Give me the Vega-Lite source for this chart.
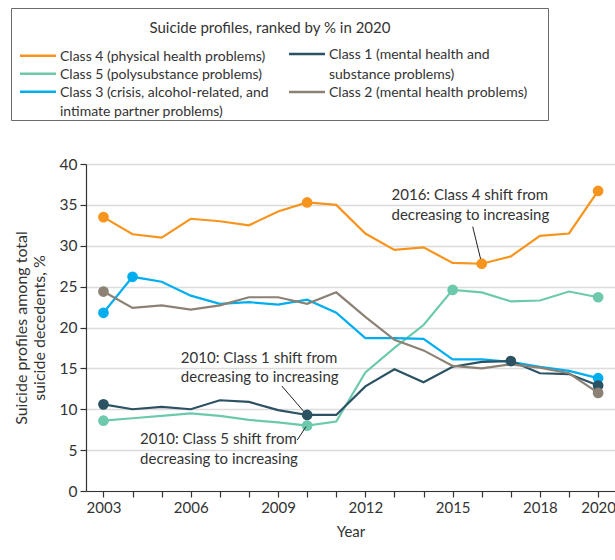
{
  "$schema": "https://vega.github.io/schema/vega-lite/v6.json",
  "width": 529,
  "height": 327,
  "autosize": "none",
  "padding": {"left": 86, "top": 164, "right": 0, "bottom": 69},
  "background": "white",
  "config": {
    "font": "Lato",
    "view": {"stroke": null},
    "text": {"font": "Lato"},
    "legend": {
      "orient": "none",
      "direction": "vertical",
      "rowPadding": 3,
      "symbolType": "M-5,0H5", "symbolSize": 51.84, "symbolStrokeWidth": 2.5, "symbolOffset": 11,
      "labelOffset": 15, "labelFontSize": 14, "labelColor": "#333333", "labelLimit": 400, "labelBaseline": "top"
    }
  },
  "datasets": {
    "series": [
      {"year": 2003, "class": "Class 4 (physical health problems)", "pct": 33.5, "dot": true},
      {"year": 2004, "class": "Class 4 (physical health problems)", "pct": 31.4, "dot": false},
      {"year": 2005, "class": "Class 4 (physical health problems)", "pct": 31.0, "dot": false},
      {"year": 2006, "class": "Class 4 (physical health problems)", "pct": 33.3, "dot": false},
      {"year": 2007, "class": "Class 4 (physical health problems)", "pct": 33.0, "dot": false},
      {"year": 2008, "class": "Class 4 (physical health problems)", "pct": 32.5, "dot": false},
      {"year": 2009, "class": "Class 4 (physical health problems)", "pct": 34.2, "dot": false},
      {"year": 2010, "class": "Class 4 (physical health problems)", "pct": 35.3, "dot": true},
      {"year": 2011, "class": "Class 4 (physical health problems)", "pct": 35.0, "dot": false},
      {"year": 2012, "class": "Class 4 (physical health problems)", "pct": 31.5, "dot": false},
      {"year": 2013, "class": "Class 4 (physical health problems)", "pct": 29.5, "dot": false},
      {"year": 2014, "class": "Class 4 (physical health problems)", "pct": 29.8, "dot": false},
      {"year": 2015, "class": "Class 4 (physical health problems)", "pct": 27.9, "dot": false},
      {"year": 2016, "class": "Class 4 (physical health problems)", "pct": 27.8, "dot": true},
      {"year": 2017, "class": "Class 4 (physical health problems)", "pct": 28.7, "dot": false},
      {"year": 2018, "class": "Class 4 (physical health problems)", "pct": 31.2, "dot": false},
      {"year": 2019, "class": "Class 4 (physical health problems)", "pct": 31.5, "dot": false},
      {"year": 2020, "class": "Class 4 (physical health problems)", "pct": 36.7, "dot": true},

      {"year": 2003, "class": "Class 5 (polysubstance problems)", "pct": 8.6, "dot": true},
      {"year": 2004, "class": "Class 5 (polysubstance problems)", "pct": 8.9, "dot": false},
      {"year": 2005, "class": "Class 5 (polysubstance problems)", "pct": 9.2, "dot": false},
      {"year": 2006, "class": "Class 5 (polysubstance problems)", "pct": 9.5, "dot": false},
      {"year": 2007, "class": "Class 5 (polysubstance problems)", "pct": 9.2, "dot": false},
      {"year": 2008, "class": "Class 5 (polysubstance problems)", "pct": 8.7, "dot": false},
      {"year": 2009, "class": "Class 5 (polysubstance problems)", "pct": 8.4, "dot": false},
      {"year": 2010, "class": "Class 5 (polysubstance problems)", "pct": 8.0, "dot": true},
      {"year": 2011, "class": "Class 5 (polysubstance problems)", "pct": 8.5, "dot": false},
      {"year": 2012, "class": "Class 5 (polysubstance problems)", "pct": 14.5, "dot": false},
      {"year": 2013, "class": "Class 5 (polysubstance problems)", "pct": 17.5, "dot": false},
      {"year": 2014, "class": "Class 5 (polysubstance problems)", "pct": 20.3, "dot": false},
      {"year": 2015, "class": "Class 5 (polysubstance problems)", "pct": 24.6, "dot": true},
      {"year": 2016, "class": "Class 5 (polysubstance problems)", "pct": 24.3, "dot": false},
      {"year": 2017, "class": "Class 5 (polysubstance problems)", "pct": 23.2, "dot": false},
      {"year": 2018, "class": "Class 5 (polysubstance problems)", "pct": 23.3, "dot": false},
      {"year": 2019, "class": "Class 5 (polysubstance problems)", "pct": 24.4, "dot": false},
      {"year": 2020, "class": "Class 5 (polysubstance problems)", "pct": 23.7, "dot": true},

      {"year": 2003, "class": "Class 3 (crisis, alcohol-related, and intimate partner problems)", "pct": 21.8, "dot": true},
      {"year": 2004, "class": "Class 3 (crisis, alcohol-related, and intimate partner problems)", "pct": 26.2, "dot": true},
      {"year": 2005, "class": "Class 3 (crisis, alcohol-related, and intimate partner problems)", "pct": 25.6, "dot": false},
      {"year": 2006, "class": "Class 3 (crisis, alcohol-related, and intimate partner problems)", "pct": 23.9, "dot": false},
      {"year": 2007, "class": "Class 3 (crisis, alcohol-related, and intimate partner problems)", "pct": 22.9, "dot": false},
      {"year": 2008, "class": "Class 3 (crisis, alcohol-related, and intimate partner problems)", "pct": 23.1, "dot": false},
      {"year": 2009, "class": "Class 3 (crisis, alcohol-related, and intimate partner problems)", "pct": 22.8, "dot": false},
      {"year": 2010, "class": "Class 3 (crisis, alcohol-related, and intimate partner problems)", "pct": 23.4, "dot": false},
      {"year": 2011, "class": "Class 3 (crisis, alcohol-related, and intimate partner problems)", "pct": 21.8, "dot": false},
      {"year": 2012, "class": "Class 3 (crisis, alcohol-related, and intimate partner problems)", "pct": 18.7, "dot": false},
      {"year": 2013, "class": "Class 3 (crisis, alcohol-related, and intimate partner problems)", "pct": 18.7, "dot": false},
      {"year": 2014, "class": "Class 3 (crisis, alcohol-related, and intimate partner problems)", "pct": 18.6, "dot": false},
      {"year": 2015, "class": "Class 3 (crisis, alcohol-related, and intimate partner problems)", "pct": 16.1, "dot": false},
      {"year": 2016, "class": "Class 3 (crisis, alcohol-related, and intimate partner problems)", "pct": 16.1, "dot": false},
      {"year": 2017, "class": "Class 3 (crisis, alcohol-related, and intimate partner problems)", "pct": 15.8, "dot": false},
      {"year": 2018, "class": "Class 3 (crisis, alcohol-related, and intimate partner problems)", "pct": 15.2, "dot": false},
      {"year": 2019, "class": "Class 3 (crisis, alcohol-related, and intimate partner problems)", "pct": 14.7, "dot": false},
      {"year": 2020, "class": "Class 3 (crisis, alcohol-related, and intimate partner problems)", "pct": 13.8, "dot": true},

      {"year": 2003, "class": "Class 1 (mental health and substance problems)", "pct": 10.6, "dot": true},
      {"year": 2004, "class": "Class 1 (mental health and substance problems)", "pct": 10.0, "dot": false},
      {"year": 2005, "class": "Class 1 (mental health and substance problems)", "pct": 10.3, "dot": false},
      {"year": 2006, "class": "Class 1 (mental health and substance problems)", "pct": 10.0, "dot": false},
      {"year": 2007, "class": "Class 1 (mental health and substance problems)", "pct": 11.1, "dot": false},
      {"year": 2008, "class": "Class 1 (mental health and substance problems)", "pct": 10.9, "dot": false},
      {"year": 2009, "class": "Class 1 (mental health and substance problems)", "pct": 9.9, "dot": false},
      {"year": 2010, "class": "Class 1 (mental health and substance problems)", "pct": 9.3, "dot": true},
      {"year": 2011, "class": "Class 1 (mental health and substance problems)", "pct": 9.3, "dot": false},
      {"year": 2012, "class": "Class 1 (mental health and substance problems)", "pct": 12.8, "dot": false},
      {"year": 2013, "class": "Class 1 (mental health and substance problems)", "pct": 14.9, "dot": false},
      {"year": 2014, "class": "Class 1 (mental health and substance problems)", "pct": 13.3, "dot": false},
      {"year": 2015, "class": "Class 1 (mental health and substance problems)", "pct": 15.2, "dot": false},
      {"year": 2016, "class": "Class 1 (mental health and substance problems)", "pct": 15.8, "dot": false},
      {"year": 2017, "class": "Class 1 (mental health and substance problems)", "pct": 15.9, "dot": true},
      {"year": 2018, "class": "Class 1 (mental health and substance problems)", "pct": 14.4, "dot": false},
      {"year": 2019, "class": "Class 1 (mental health and substance problems)", "pct": 14.3, "dot": false},
      {"year": 2020, "class": "Class 1 (mental health and substance problems)", "pct": 12.9, "dot": true},

      {"year": 2003, "class": "Class 2 (mental health problems)", "pct": 24.4, "dot": true},
      {"year": 2004, "class": "Class 2 (mental health problems)", "pct": 22.4, "dot": false},
      {"year": 2005, "class": "Class 2 (mental health problems)", "pct": 22.7, "dot": false},
      {"year": 2006, "class": "Class 2 (mental health problems)", "pct": 22.2, "dot": false},
      {"year": 2007, "class": "Class 2 (mental health problems)", "pct": 22.7, "dot": false},
      {"year": 2008, "class": "Class 2 (mental health problems)", "pct": 23.7, "dot": false},
      {"year": 2009, "class": "Class 2 (mental health problems)", "pct": 23.7, "dot": false},
      {"year": 2010, "class": "Class 2 (mental health problems)", "pct": 22.9, "dot": false},
      {"year": 2011, "class": "Class 2 (mental health problems)", "pct": 24.3, "dot": false},
      {"year": 2012, "class": "Class 2 (mental health problems)", "pct": 21.3, "dot": false},
      {"year": 2013, "class": "Class 2 (mental health problems)", "pct": 18.5, "dot": false},
      {"year": 2014, "class": "Class 2 (mental health problems)", "pct": 17.2, "dot": false},
      {"year": 2015, "class": "Class 2 (mental health problems)", "pct": 15.3, "dot": false},
      {"year": 2016, "class": "Class 2 (mental health problems)", "pct": 15.0, "dot": false},
      {"year": 2017, "class": "Class 2 (mental health problems)", "pct": 15.5, "dot": false},
      {"year": 2018, "class": "Class 2 (mental health problems)", "pct": 15.1, "dot": false},
      {"year": 2019, "class": "Class 2 (mental health problems)", "pct": 14.4, "dot": false},
      {"year": 2020, "class": "Class 2 (mental health problems)", "pct": 12.0, "dot": true}
    ],
    "notes": [
      {"year": 2012.9, "pct": 36.2, "note": "2016: Class 4 shift from\ndecreasing to increasing"},
      {"year": 2005.66, "pct": 16.3, "note": "2010: Class 1 shift from\ndecreasing to increasing"},
      {"year": 2004.26, "pct": 6.32, "note": "2010: Class 5 shift from\ndecreasing to increasing"}
    ],
    "arrows": [
      {"year": 2015.69, "pct": 32.33, "year2": 2015.96, "pct2": 28.4},
      {"year": 2009.13, "pct": 12.84, "year2": 2009.89, "pct2": 9.7},
      {"year": 2009.66, "pct": 6.24, "year2": 2009.96, "pct2": 7.87}
    ]
  },
  "layer": [
    {
      "data": {"name": "series"},
      "transform": [{"filter": {"field": "class", "oneOf": ["Class 4 (physical health problems)", "Class 5 (polysubstance problems)", "Class 3 (crisis, alcohol-related, and intimate partner problems)"]}}],
      "mark": {"type": "line", "strokeWidth": 2.2},
      "encoding": {
        "x": {
          "field": "year", "type": "quantitative",
          "scale": {"domain": [2002.4, 2020.58], "nice": false, "zero": false},
          "axis": {
            "values": [2003, 2004, 2005, 2006, 2007, 2008, 2009, 2010, 2011, 2012, 2013, 2014, 2015, 2016, 2017, 2018, 2019, 2020],
            "tickCount": 30,
            "format": "d",
            "labelExpr": "indexof([2003, 2006, 2009, 2012, 2015, 2018, 2020], datum.value) >= 0 ? datum.label : ''",
            "grid": false,
            "tickSize": 6, "tickColor": "#333333", "tickWidth": 1.2,
            "domainColor": "#333333", "domainWidth": 1.2,
            "labelFontSize": 15, "labelColor": "#333333", "labelPadding": 3,
            "labelFlush": false, "labelOverlap": false, "labelBound": false,
            "title": "Year", "titleFontSize": 15, "titleFontWeight": "normal", "titleColor": "#333333", "titlePadding": 9
          }
        },
        "y": {
          "field": "pct", "type": "quantitative",
          "scale": {"domain": [0, 40], "nice": false},
          "axis": {
            "values": [0, 5, 10, 15, 20, 25, 30, 35, 40],
            "grid": true, "gridColor": "#dcdcdc", "gridWidth": 1.5,
            "tickSize": 6, "tickColor": "#333333", "tickWidth": 1.2,
            "domainColor": "#333333", "domainWidth": 1.2,
            "labelFontSize": 15.5, "labelColor": "#333333", "labelPadding": 3,
            "title": ["Suicide profiles among total", "suicide decedents, %"],
            "titleFontSize": 16, "titleFontWeight": "normal", "titleColor": "#333333", "titlePadding": 12
          }
        },
        "color": {
          "field": "class", "type": "nominal",
          "scale": {
            "domain": [
              "Class 4 (physical health problems)",
              "Class 5 (polysubstance problems)",
              "Class 3 (crisis, alcohol-related, and intimate partner problems)"
            ],
            "range": ["#F7941D", "#6CC9AC", "#00AEEF"]
          },
          "legend": {
            "orient": "none", "legendX": -66, "legendY": -115.3,
            "title": null, "padding": 0,
            "labelExpr": "datum.label == 'Class 3 (crisis, alcohol-related, and intimate partner problems)' ? ['Class 3 (crisis, alcohol-related, and', 'intimate partner problems)'] : datum.label",
            "encode": {
              "labels": {"update": {"lineHeight": {"value": 19.5}, "dy": {"value": -6}}}
            }
          }
        }
      }
    },
    {
      "data": {"name": "series"},
      "transform": [{"filter": {"field": "class", "oneOf": ["Class 1 (mental health and substance problems)", "Class 2 (mental health problems)"]}}],
      "mark": {"type": "line", "strokeWidth": 2.2},
      "encoding": {
        "x": {"field": "year", "type": "quantitative"},
        "y": {"field": "pct", "type": "quantitative"},
        "stroke": {
          "field": "class", "type": "nominal",
          "scale": {
            "domain": ["Class 1 (mental health and substance problems)", "Class 2 (mental health problems)"],
            "range": ["#2B5263", "#8B8174"]
          },
          "legend": {
            "orient": "none", "legendX": -75, "legendY": -156,
            "title": "Suicide profiles, ranked by % in 2020",
            "titleAnchor": "middle", "titleFontSize": 15, "titleFontWeight": "normal", "titleColor": "#333333", "titlePadding": 4, "titleLimit": 600,
            "strokeColor": "#6b6b6b", "padding": 20,
            "symbolOffset": 269,
            "labelExpr": "datum.label == 'Class 1 (mental health and substance problems)' ? ['Class 1 (mental health and', 'substance problems)'] : datum.label",
            "encode": {
              "title": {"update": {"dy": {"value": -7}, "dx": {"value": -9}}},
              "labels": {"update": {"lineHeight": {"value": 19.5}, "dy": {"value": -6}}}
            }
          }
        }
      }
    },
    {
      "data": {"name": "series"},
      "transform": [
        {"filter": "datum.dot"},
        {"filter": {"field": "class", "oneOf": ["Class 4 (physical health problems)", "Class 5 (polysubstance problems)", "Class 3 (crisis, alcohol-related, and intimate partner problems)"]}}
      ],
      "mark": {"type": "point", "filled": true, "size": 115, "opacity": 1},
      "encoding": {
        "x": {"field": "year", "type": "quantitative"},
        "y": {"field": "pct", "type": "quantitative"},
        "color": {"field": "class", "type": "nominal"}
      }
    },
    {
      "data": {"name": "series"},
      "transform": [
        {"filter": "datum.dot"},
        {"filter": {"field": "class", "oneOf": ["Class 1 (mental health and substance problems)", "Class 2 (mental health problems)"]}}
      ],
      "mark": {"type": "point", "filled": true, "size": 115, "opacity": 1},
      "encoding": {
        "x": {"field": "year", "type": "quantitative"},
        "y": {"field": "pct", "type": "quantitative"},
        "fill": {
          "field": "class", "type": "nominal",
          "scale": {
            "domain": ["Class 1 (mental health and substance problems)", "Class 2 (mental health problems)"],
            "range": ["#2B5263", "#8B8174"]
          },
          "legend": null
        }
      }
    },
    {
      "data": {"name": "arrows"},
      "mark": {"type": "rule", "color": "#222222", "strokeWidth": 1},
      "encoding": {
        "x": {"field": "year", "type": "quantitative"},
        "y": {"field": "pct", "type": "quantitative"},
        "x2": {"field": "year2"},
        "y2": {"field": "pct2"}
      }
    },
    {
      "data": {"name": "notes"},
      "mark": {"type": "text", "align": "left", "baseline": "middle", "lineBreak": "\n", "lineHeight": 19.5, "fontSize": 15, "color": "#333333"},
      "encoding": {
        "x": {"field": "year", "type": "quantitative"},
        "y": {"field": "pct", "type": "quantitative"},
        "text": {"field": "note"}
      }
    }
  ]
}
